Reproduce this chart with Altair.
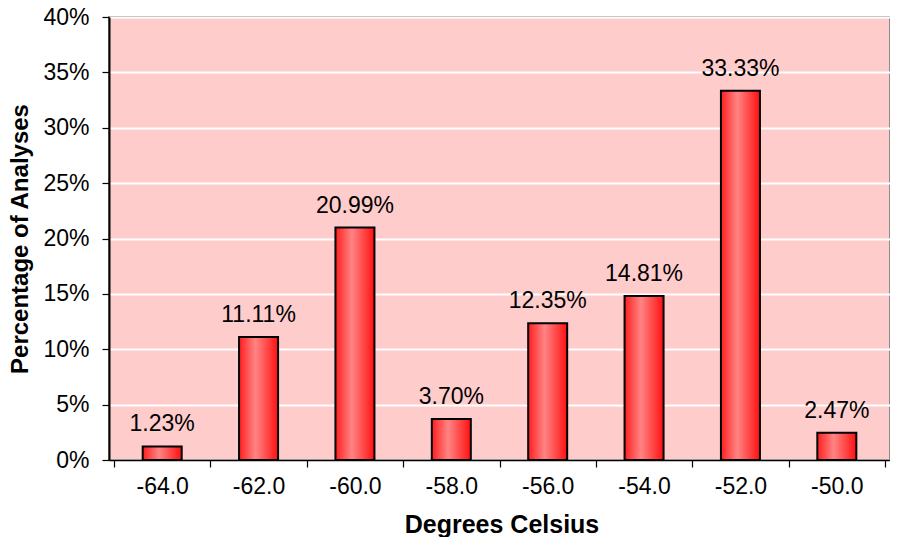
import altair as alt
import pandas as pd

temps = [-64.0, -62.0, -60.0, -58.0, -56.0, -54.0, -52.0, -50.0]
shares = [0.0123, 0.1111, 0.2099, 0.0370, 0.1235, 0.1481, 0.3333, 0.0247]
y_ticks = [0.0, 0.05, 0.10, 0.15, 0.20, 0.25, 0.30, 0.35, 0.40]
x_ticks = [-65, -64, -63, -62, -61, -60, -59, -58, -57, -56, -55, -54, -53, -52, -51, -50, -49]

df = pd.DataFrame({"temp": temps, "share": shares})

FONT = "Liberation Sans"
W = 781
H = 443

grad = alt.LinearGradient(
    gradient="linear",
    stops=[
        alt.GradientStop(color="#FF1E1E", offset=0),
        alt.GradientStop(color="#FF8484", offset=0.42),
        alt.GradientStop(color="#FF1010", offset=1),
    ],
    x1=0, x2=1, y1=0, y2=0,
)

x_enc = alt.X(
    "temp:Q",
    scale=alt.Scale(domain=[-65, -49], nice=False, zero=False),
    axis=alt.Axis(
        values=x_ticks,
        labelExpr="datum.value % 2 == 0 ? datum.value + '.0' : ''",
        tickOpacity={"condition": {"test": "datum.value % 2 == 0", "value": 0}, "value": 1},
        labelOverlap=False,
        labelFlush=False,
        labelBound=False,
        grid=False,
        domainColor="black",
        domainWidth=1.5,
        tickColor="black",
        tickWidth=1.2,
        tickSize=7,
        labelPadding=8,
        labelFont=FONT,
        labelFontSize=23,
        labelColor="black",
        title="Degrees Celsius",
        titleFont=FONT,
        titleFontSize=25,
        titleFontWeight="bold",
        titleColor="black",
        titleBaseline="alphabetic",
        titleX=W / 2 + 2,
        titleY=72,
        zindex=1,
    ),
)

y_enc = alt.Y(
    "share:Q",
    scale=alt.Scale(domain=[0, 0.4], nice=False),
    axis=alt.Axis(
        values=y_ticks,
        format=".0%",
        grid=True,
        gridColor="white",
        gridWidth=2.2,
        domainColor="black",
        domainWidth=2,
        tickColor="black",
        tickWidth=1.2,
        tickSize=7,
        labelPadding=13,
        labelFont=FONT,
        labelFontSize=23,
        labelColor="black",
        title="Percentage of Analyses",
        titleFont=FONT,
        titleFontSize=24,
        titleFontWeight="bold",
        titleColor="black",
        titleBaseline="alphabetic",
        titleAngle=270,
        titleX=-82,
        titleY=H / 2,
        zindex=0,
    ),
)

bars = alt.Chart(df).mark_bar(
    size=39, color=grad, stroke="black", strokeWidth=2
).encode(x=x_enc, y=y_enc)

labels = alt.Chart(df).mark_text(
    baseline="alphabetic", dy=-15, font=FONT, fontSize=23, color="black"
).encode(
    x="temp:Q",
    y="share:Q",
    text=alt.Text("share:Q", format=".2%"),
)

chart = (
    alt.layer(bars, labels)
    .properties(
        width=W,
        height=H,
        autosize=alt.AutoSizeParams(type="none"),
        padding={"left": 101, "top": 9, "right": 0, "bottom": 77},
    )
    .configure(background="white")
    .configure_view(fill="#FFCCCC", stroke="#8C8C8C", strokeWidth=2)
)

chart.save("out.html", embed_options={"renderer": "svg", "actions": False})
